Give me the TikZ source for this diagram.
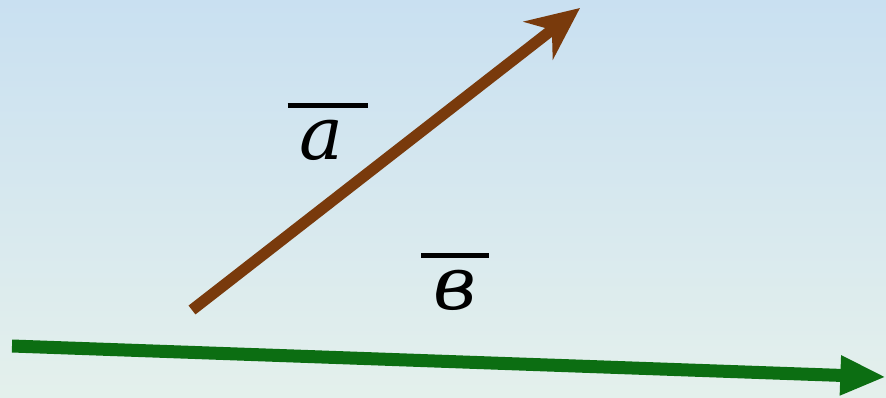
\documentclass[tikz,border=0pt]{standalone}
\usepackage{fontspec}
\newfontfamily\letra{DejaVu Serif}
\usetikzlibrary{arrows.meta}
\definecolor{cieloF}{HTML}{C9E0F1}
\definecolor{cieloC}{HTML}{E4F0EC}
\definecolor{marronV}{HTML}{793A0C}
\definecolor{verdeV}{HTML}{0C6E12}
\newcommand\barra[1]{\vbox{\hrule height 2.6pt\kern 7pt\hbox{#1}}}

\begin{document}
\begin{tikzpicture}[x=0.02cm,y=-0.02cm,>=Stealth]
  \shade[top color=cieloF,bottom color=cieloC] (0,0) rectangle (886,397);
  \useasboundingbox (0,0) rectangle (886,397);
  \coordinate (a0) at (192,310);
  \coordinate (a1) at (580,8);
  \coordinate (b0) at (12,346);
  \coordinate (b1) at (886,377);
  \draw[marronV,line width=6.4pt,-{Stealth[length=30pt,width=27pt]}] (a0) -- (a1);
  \draw[verdeV,line width=7.4pt,-{Triangle[length=26pt,width=21pt]}] (b0) -- (b1);
  \node[font=\fontsize{42}{42}\letra\itshape] (la) at (328,132) {\barra{\,a\,\,}};
  \node[font=\fontsize{42}{42}\letra\itshape] (lb) at (455,282) {\barra{\,в\,}};
\end{tikzpicture}
\end{document}
